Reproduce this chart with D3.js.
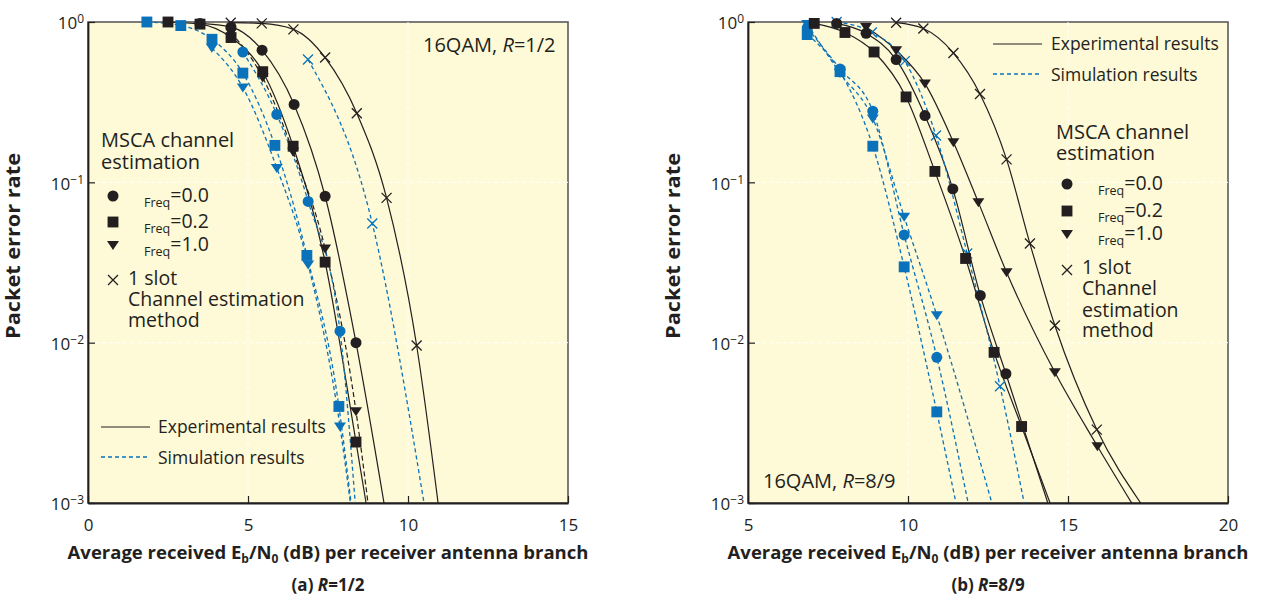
<!DOCTYPE html>
<html><head><meta charset="utf-8">
<script src="https://cdn.jsdelivr.net/npm/d3@7"></script>
<style>
body{margin:0;background:#fff}
text{font-family:"Open Sans","Noto Sans",sans-serif;fill:#231f20}
</style>
</head><body>
<svg id="c" width="1267" height="596"></svg>
<script>
// ---------------- DATA ----------------
const yTickValues = [1, 0.1, 0.01, 0.001];
const yTickExponents = ["0", "\u22121", "\u22122", "\u22123"];
const xTicksA = [0, 5, 10, 15];
const xTicksB = [5, 10, 15, 20];
const legendValues = ["=0.0", "=0.2", "=1.0"];

// Panel (a) R=1/2 : [Eb/N0 dB, packet error rate]
const aExpFreq00 = [[3.5,0.98],[4.47,0.93],[5.44,0.667],[6.44,0.306],[7.41,0.0819],[8.375,0.0100]];
const aExpFreq00Tail = [[9.25,0.001]];
const aExpFreq02 = [[2.5,1.0],[3.5,0.97],[4.47,0.80],[5.46,0.49],[6.41,0.168],[7.41,0.0318],[8.375,0.0024]];
const aExpFreq02Tail = [[8.69,0.001]];
const aExpFreq10 = [[4.47,0.86],[5.46,0.45],[6.41,0.155],[7.41,0.0386],[8.375,0.00373]];
const aExpFreq10Tail = [[8.75,0.001]];
const aExpSlot = [[4.46,0.99],[5.43,0.98],[6.42,0.90],[7.41,0.60],[8.4,0.27],[9.33,0.08],[10.27,0.0096]];
const aExpSlotTail = [[10.94,0.001]];
const aSimFreq00 = [[4.84,0.65],[5.9,0.265],[6.88,0.076],[7.875,0.0118]];
const aSimFreq00Tail = [[8.35,0.001]];
const aSimFreq02 = [[1.84,1.0],[2.9,0.95],[3.875,0.78],[4.84,0.48],[5.84,0.17],[6.84,0.035],[7.84,0.004]];
const aSimFreq02Tail = [[8.22,0.001]];
const aSimFreq10 = [[3.87,0.69],[4.84,0.39],[5.9,0.123],[6.88,0.0307],[7.875,0.0030]];
const aSimFreq10Tail = [[8.2,0.001]];
const aSimSlot = [[6.875,0.583],[8.885,0.0553]];
const aSimSlotTail = [[10.5,0.001]];

// Panel (b) R=8/9
const bExpFreq00 = [[7.77,0.98],[8.69,0.85],[9.63,0.583],[10.53,0.261],[11.40,0.091],[12.26,0.0197],[13.06,0.0064]];
const bExpFreq00Tail = [[14.37,0.001]];
const bExpFreq02 = [[7.07,0.98],[8.03,0.86],[8.94,0.65],[9.94,0.341],[10.84,0.117],[11.80,0.0335],[12.69,0.0087],[13.55,0.0030]];
const bExpFreq02Tail = [[14.44,0.001]];
const bExpFreq10 = [[8.69,0.93],[9.63,0.667],[10.53,0.413],[11.42,0.178],[12.2,0.075],[13.08,0.0275],[14.59,0.00653],[15.92,0.00226]];
const bExpFreq10Tail = [[16.99,0.001]];
const bExpSlot = [[9.63,0.99],[10.48,0.91],[11.42,0.64],[12.25,0.356],[13.08,0.139],[13.81,0.0415],[14.59,0.0128],[15.9,0.00287]];
const bExpSlotTail = [[17.27,0.001]];
const bSimFreq00 = [[6.85,0.92],[7.875,0.51],[8.9,0.278],[9.88,0.047],[10.90,0.0081]];
const bSimFreq00Tail = [[11.88,0.001]];
const bSimFreq02 = [[6.85,0.835],[7.875,0.49],[8.90,0.168],[9.88,0.0297],[10.90,0.0037]];
const bSimFreq02Tail = [[11.5,0.001]];
const bSimFreq10 = [[6.85,0.97],[7.875,0.48],[8.9,0.25],[9.88,0.061],[10.90,0.0148]];
const bSimFreq10Tail = [[12.62,0.001]];
const bSimSlot = [[7.77,1.0],[8.87,0.86],[9.9,0.57],[10.875,0.196],[11.85,0.036],[12.875,0.00535]];
const bSimSlotTail = [[13.63,0.001]];

// ---------------- STYLE ----------------
const BLACK = "#231f20", BLUE = "#0a72ba", BG = "#fef9d6";
const svg = d3.select("#c");

function markerPath(kind) {
  if (kind === "circle") return d3.symbol(d3.symbolCircle, 95)();
  if (kind === "square") return d3.symbol(d3.symbolSquare, 118)();
  if (kind === "triangle") return "M-6,-4L6,-4L0,5Z";
  return "M-5,-5L5,5M-5,5L5,-5";
}
function drawMarker(g, kind, x, y, color) {
  const p = g.append("path").attr("d", markerPath(kind)).attr("transform", `translate(${x},${y})`);
  if (kind === "cross") p.attr("fill", "none").attr("stroke", color).attr("stroke-width", 1.3);
  else p.attr("fill", color);
}

function panel(cfg) {
  const x = d3.scaleLinear().domain(cfg.xDomain).range([cfg.left, cfg.right]);
  const y = d3.scaleLog().domain([0.001, 1]).range([503, 22]);
  const g = svg.append("g");

  g.append("rect").attr("x", cfg.left).attr("y", 22).attr("width", cfg.right - cfg.left).attr("height", 481)
    .attr("fill", BG).attr("stroke", "#5b5b5d").attr("stroke-width", 1.6);

  // grid
  const gx = cfg.xTicks.slice(1, -1), gy = yTickValues.slice(1, -1);
  g.selectAll(".gx").data(gx).join("line").attr("x1", d => x(d)).attr("x2", d => x(d)).attr("y1", 22).attr("y2", 503)
    .attr("stroke", "#fff").attr("stroke-width", 1).attr("stroke-dasharray", "4,3");
  g.selectAll(".gy").data(gy).join("line").attr("y1", d => y(d)).attr("y2", d => y(d)).attr("x1", cfg.left).attr("x2", cfg.right)
    .attr("stroke", "#fff").attr("stroke-width", 1).attr("stroke-dasharray", "4,3");

  // axes with inward ticks
  const ax = g.append("g").attr("transform", `translate(0,503)`)
    .call(d3.axisBottom(x).tickValues(cfg.xTicks).tickSizeInner(-7).tickSizeOuter(0).tickPadding(16));
  ax.select(".domain").attr("stroke", BLACK).attr("stroke-width", 1.8);
  ax.selectAll(".tick line").attr("stroke", BLACK).attr("stroke-width", 1.2);
  ax.selectAll(".tick text").attr("font-size", 17).attr("fill", BLACK).attr("font-family", "Open Sans");

  const ay = g.append("g").attr("transform", `translate(${cfg.left},0)`)
    .call(d3.axisLeft(y).tickValues(yTickValues).tickSizeInner(-7).tickSizeOuter(0).tickFormat(""));
  ay.select(".domain").attr("stroke", BLACK).attr("stroke-width", 1.8);
  ay.selectAll(".tick line").attr("stroke", BLACK).attr("stroke-width", 1.2);
  ay.selectAll(".tick").each(function(d, i) {
    const t = d3.select(this).append("text").attr("x", -4).attr("dy", "0.4em").attr("text-anchor", "end")
      .attr("font-size", 17).attr("fill", BLACK);
    t.append("tspan").text("10");
    t.append("tspan").attr("dy", "-0.5em").attr("font-size", 12).text(yTickExponents[i]);
  });

  // curves
  const line = d3.line().x(d => x(d[0])).y(d => y(d[1])).curve(d3.curveMonotoneX);
  cfg.series.forEach(s => {
    const path = g.append("path").datum(s.pts.concat(s.tail)).attr("d", line).attr("fill", "none")
      .attr("stroke", s.sim ? BLUE : BLACK).attr("stroke-width", s.sim ? 1.3 : 1.2);
    if (s.sim) path.attr("stroke-dasharray", "4,3");
    if (s.dash) path.attr("stroke-dasharray", "5,3");
  });
  // markers: blue first, then black
  [true, false].forEach(sim => cfg.series.filter(s => !!s.sim === sim).forEach(s => {
    s.pts.forEach(p => drawMarker(g, s.marker, x(p[0]), y(p[1]), sim ? BLUE : BLACK));
  }));

  // axis titles
  const cx = (cfg.left + cfg.right) / 2;
  g.append("text").attr("transform", `translate(${cfg.left - 68},246) rotate(-90)`).attr("text-anchor", "middle")
    .attr("font-size", 19).attr("font-weight", "bold").attr("textLength", 186).attr("lengthAdjust", "spacingAndGlyphs")
    .text("Packet error rate");
  const xl = g.append("text").attr("x", cx).attr("y", 559).attr("text-anchor", "middle")
    .attr("font-size", 18.5).attr("font-weight", "bold");
  xl.append("tspan").text("Average received E");
  xl.append("tspan").attr("font-size", 12).attr("dy", 4).text("b");
  xl.append("tspan").attr("dy", -4).text("/N");
  xl.append("tspan").attr("font-size", 12).attr("dy", 4).text("0");
  xl.append("tspan").attr("dy", -4).text(" (dB) per receiver antenna branch");
  const cap = g.append("text").attr("x", cx).attr("y", 591).attr("text-anchor", "middle")
    .attr("font-size", 17).attr("font-weight", "bold");
  cap.append("tspan").text(cfg.capA);
  cap.append("tspan").attr("font-style", "italic").text("R");
  cap.append("tspan").text(cfg.capB);

  // annotation
  const an = g.append("text").attr("x", cfg.ann[0]).attr("y", cfg.ann[1]).attr("font-size", 20);
  an.append("tspan").text("16QAM, ");
  an.append("tspan").attr("font-style", "italic").text("R");
  an.append("tspan").text(cfg.annB);

  // line-style legend
  const L = cfg.lineLeg;
  g.append("line").attr("x1", L.x1).attr("x2", L.x2).attr("y1", L.y1).attr("y2", L.y1).attr("stroke", BLACK).attr("stroke-width", 1.2);
  g.append("text").attr("x", L.tx).attr("y", L.y1 + 6).attr("font-size", 17.5).text("Experimental results");
  g.append("line").attr("x1", L.x1).attr("x2", L.x2).attr("y1", L.y2).attr("y2", L.y2).attr("stroke", BLUE).attr("stroke-width", 1.3).attr("stroke-dasharray", "4,3");
  g.append("text").attr("x", L.tx).attr("y", L.y2 + 6.5).attr("font-size", 17.5).text("Simulation results");

  // marker legend
  const M = cfg.markLeg;
  g.append("text").attr("x", M.hx).attr("y", M.h1).attr("font-size", 20).text("MSCA channel");
  g.append("text").attr("x", M.hx).attr("y", M.h2).attr("font-size", 20).text("estimation");
  ["circle", "square", "triangle"].forEach((k, i) => {
    drawMarker(g, k, M.mx, M.my[i], BLACK);
    const t = g.append("text").attr("x", M.mx + 31).attr("y", M.my[i] + 6).attr("font-size", 19.5);
    t.append("tspan").attr("font-size", 12.5).attr("dy", 5).text("Freq");
    t.append("tspan").attr("dy", -5).text(legendValues[i]);
  });
  drawMarker(g, "cross", M.mx, M.my[3], BLACK);
  M.slotLines.forEach((s, i) => g.append("text").attr("x", M.mx + 15).attr("y", M.slotY[i]).attr("font-size", 19.5).text(s));
}

panel({
  xDomain: [0, 15], left: 88, right: 568, xTicks: xTicksA, capA: "(a) ", capB: "=1/2",
  ann: [423, 52], annB: "=1/2",
  lineLeg: {x1: 101, x2: 150, y1: 427, y2: 457, tx: 158},
  markLeg: {hx: 101, h1: 147, h2: 169, mx: 113, my: [196, 222, 245, 280],
    slotLines: ["1 slot", "Channel estimation", "method"], slotY: [285, 306, 327]},
  series: [
    {pts: aExpFreq00, tail: aExpFreq00Tail, marker: "circle"},
    {pts: aExpFreq02, tail: aExpFreq02Tail, marker: "square"},
    {pts: aExpFreq10, tail: aExpFreq10Tail, marker: "triangle", dash: true},
    {pts: aExpSlot, tail: aExpSlotTail, marker: "cross"},
    {pts: aSimFreq00, tail: aSimFreq00Tail, marker: "circle", sim: true},
    {pts: aSimFreq02, tail: aSimFreq02Tail, marker: "square", sim: true},
    {pts: aSimFreq10, tail: aSimFreq10Tail, marker: "triangle", sim: true},
    {pts: aSimSlot, tail: aSimSlotTail, marker: "cross", sim: true}
  ]
});

panel({
  xDomain: [5, 20], left: 748, right: 1228, xTicks: xTicksB, capA: "(b) ", capB: "=8/9",
  ann: [763, 488], annB: "=8/9",
  lineLeg: {x1: 993, x2: 1042, y1: 44, y2: 74, tx: 1051},
  markLeg: {hx: 1056, h1: 139, h2: 160, mx: 1067, my: [184, 211, 234, 270],
    slotLines: ["1 slot", "Channel", "estimation", "method"], slotY: [274, 295, 317, 337]},
  series: [
    {pts: bExpFreq00, tail: bExpFreq00Tail, marker: "circle"},
    {pts: bExpFreq02, tail: bExpFreq02Tail, marker: "square"},
    {pts: bExpFreq10, tail: bExpFreq10Tail, marker: "triangle"},
    {pts: bExpSlot, tail: bExpSlotTail, marker: "cross"},
    {pts: bSimFreq00, tail: bSimFreq00Tail, marker: "circle", sim: true},
    {pts: bSimFreq02, tail: bSimFreq02Tail, marker: "square", sim: true},
    {pts: bSimFreq10, tail: bSimFreq10Tail, marker: "triangle", sim: true},
    {pts: bSimSlot, tail: bSimSlotTail, marker: "cross", sim: true}
  ]
});
</script>
</body></html>
